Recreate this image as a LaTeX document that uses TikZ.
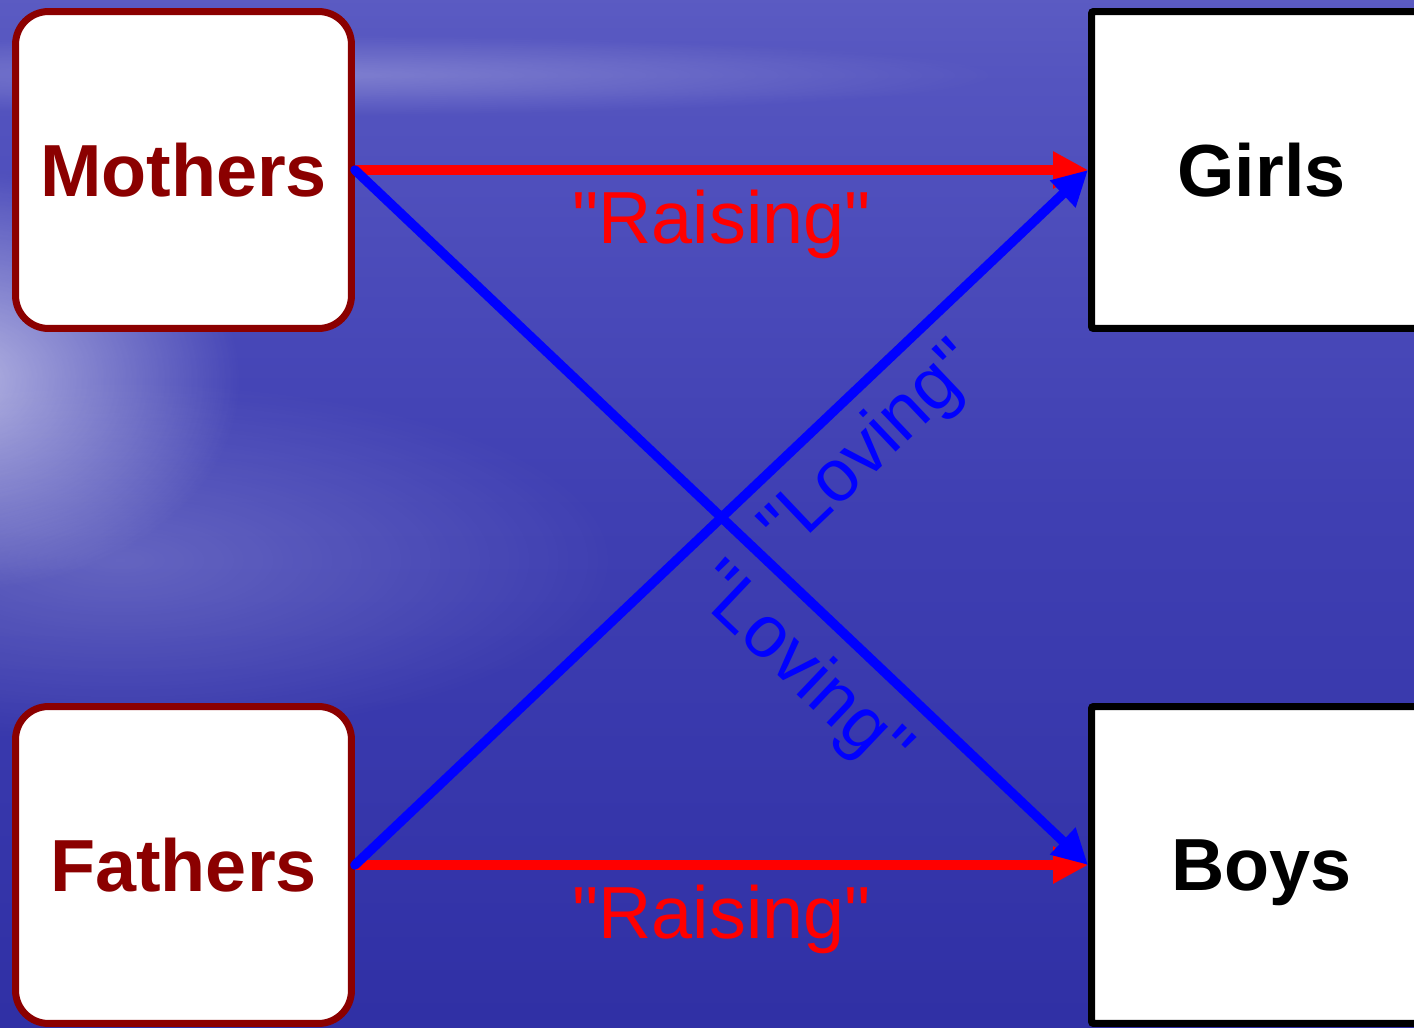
\documentclass[tikz,border=0pt]{standalone}
\usepackage{fontspec}
\setmainfont{Liberation Sans}[Ligatures=TeXOff]
\usetikzlibrary{arrows.meta,fadings}
\definecolor{boxred}{RGB}{139,0,0}
\pgfdeclareverticalshading{sea}{100bp}{rgb(0bp)=(0.16,0.16,0.62); rgb(22bp)=(0.18,0.18,0.64); rgb(51bp)=(0.25,0.25,0.70); rgb(71bp)=(0.33,0.33,0.75); rgb(85bp)=(0.42,0.42,0.79); rgb(90.5bp)=(0.55,0.55,0.85); rgb(92.8bp)=(0.72,0.72,0.90); rgb(94.6bp)=(0.60,0.60,0.86); rgb(98bp)=(0.48,0.48,0.81); rgb(100bp)=(0.44,0.44,0.80)}
\tikzfading[name=glow, inner color=transparent!0, outer color=transparent!100]
\tikzset{
  parentbox/.style={draw=boxred, line width=0.14cm, fill=white, rounded corners=0.66cm,
    minimum width=6.72cm, minimum height=6.34cm, inner sep=0pt, text depth=0pt,
    text=boxred, font=\fontsize{42}{50}\selectfont\bfseries},
  childbox/.style={draw=black, line width=0.14cm, fill=white, rounded corners=0.04cm,
    minimum width=6.8cm, minimum height=6.34cm, inner sep=0pt, text depth=0pt,
    text=black, font=\fontsize{42}{50}\selectfont\bfseries},
  raisearrow/.style={draw=red, line width=0.19cm, -{Triangle[length=0.7cm,width=0.7cm]}},
  lovearrow/.style={draw=blue, line width=0.19cm, line cap=round, -{Triangle[length=0.7cm,width=0.7cm]}},
  lbl/.style={inner sep=0pt, font=\fontsize{42}{48}\selectfont},
}
\begin{document}
\begin{tikzpicture}[x=0.02cm, y=-0.02cm]
\useasboundingbox (0,0) rectangle (1414,1028);
\clip (0,0) rectangle (1414,1028);
\shade[shading=sea] (0,0) rectangle (1414,1028);
\fill[white, path fading=glow, fill opacity=0.6] (-40,380) ellipse (280 and 210);
\fill[white, path fading=glow, fill opacity=0.2] (120,560) ellipse (500 and 180);
\fill[white, path fading=glow, fill opacity=0.25] (300,75) ellipse (700 and 40);

\node[parentbox] (Mothers) at (183.5,170) {Mothers};
\node[parentbox] (Fathers) at (183.5,865) {Fathers};
\node[childbox] (Girls) at (1261.5,170) {Girls};
\node[childbox] (Boys) at (1261.5,865) {Boys};

\draw[raisearrow] (Mothers.east) -- node[below=0.3cm, lbl, text=red] {"Raising"} (Girls.west);
\draw[raisearrow] (Fathers.east) -- node[below=0.3cm, lbl, text=red] {"Raising"} (Boys.west);
\draw[lovearrow] (Mothers.east) -- node[pos=0.66, sloped, below=0.36cm, lbl, text=blue] {"Loving"} (Boys.west);
\draw[lovearrow] (Fathers.east) -- node[pos=0.655, sloped, below=0.3cm, lbl, text=blue] {"Loving"} (Girls.west);
\end{tikzpicture}
\end{document}
